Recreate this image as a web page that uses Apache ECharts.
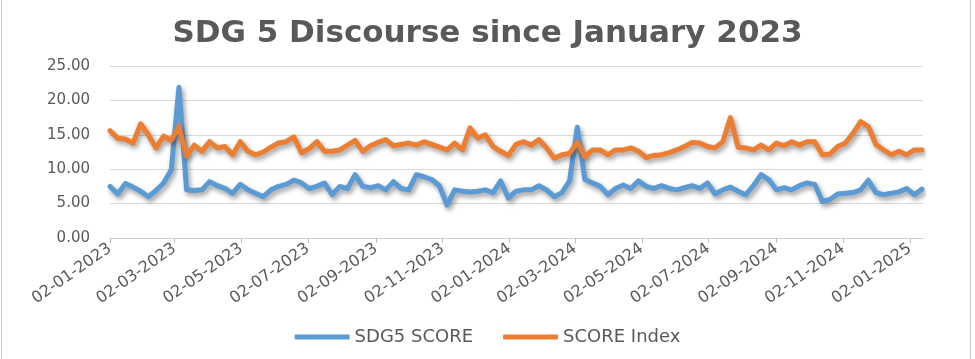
<!DOCTYPE html>
<html>
<head>
<meta charset="utf-8">
<script src="https://cdn.jsdelivr.net/npm/echarts@6/dist/echarts.min.js"></script>
<style>
html,body{margin:0;padding:0;background:#fff;}
#c{width:975px;height:359px;}
</style>
</head>
<body>
<div id="c"></div>
<script>
const title = 'SDG 5 Discourse since January 2023';
const seriesNames = ['SDG5 SCORE', 'SCORE Index'];
const dates = [
'2023-01-02','2023-01-09','2023-01-16','2023-01-23','2023-01-30','2023-02-06','2023-02-13','2023-02-20','2023-02-27',
'2023-03-06','2023-03-13','2023-03-20','2023-03-27','2023-04-03','2023-04-10','2023-04-17','2023-04-24',
'2023-05-01','2023-05-08','2023-05-15','2023-05-22','2023-05-29','2023-06-05','2023-06-12','2023-06-19','2023-06-26',
'2023-07-03','2023-07-10','2023-07-17','2023-07-24','2023-07-31','2023-08-07','2023-08-14','2023-08-21','2023-08-28',
'2023-09-04','2023-09-11','2023-09-18','2023-09-25','2023-10-02','2023-10-09','2023-10-16','2023-10-23','2023-10-30',
'2023-11-06','2023-11-13','2023-11-20','2023-11-27','2023-12-04','2023-12-11','2023-12-18','2023-12-25',
'2024-01-01','2024-01-08','2024-01-15','2024-01-22','2024-01-29','2024-02-05','2024-02-12','2024-02-19','2024-02-26',
'2024-03-04','2024-03-11','2024-03-18','2024-03-25','2024-04-01','2024-04-08','2024-04-15','2024-04-22','2024-04-29',
'2024-05-06','2024-05-13','2024-05-20','2024-05-27','2024-06-03','2024-06-10','2024-06-17','2024-06-24',
'2024-07-01','2024-07-08','2024-07-15','2024-07-22','2024-07-29','2024-08-05','2024-08-12','2024-08-19','2024-08-26',
'2024-09-02','2024-09-09','2024-09-16','2024-09-23','2024-09-30','2024-10-07','2024-10-14','2024-10-21','2024-10-28',
'2024-11-04','2024-11-11','2024-11-18','2024-11-25','2024-12-02','2024-12-09','2024-12-16','2024-12-23','2024-12-30',
'2025-01-06','2025-01-13'
];
const sdg5Score = [
7.5,6.4,7.9,7.4,6.8,6.0,6.9,8.0,9.9,
21.9,7.0,6.9,7.0,8.2,7.6,7.2,6.5,
7.8,7.0,6.5,6.0,7.0,7.5,7.8,8.4,8.0,
7.2,7.5,8.0,6.3,7.5,7.2,9.2,7.5,7.3,
7.6,7.0,8.2,7.2,7.0,9.2,8.9,8.5,7.6,
4.8,7.0,6.8,6.7,6.8,7.0,6.6,8.3,
5.8,6.8,7.0,7.0,7.6,7.0,6.0,6.6,8.3,
16.1,8.5,8.0,7.5,6.3,7.2,7.7,7.2,8.3,
7.5,7.2,7.6,7.2,7.0,7.3,7.6,7.2,
8.0,6.4,7.0,7.4,6.8,6.3,7.6,9.2,8.5,
7.0,7.3,7.0,7.6,8.0,7.8,5.3,5.6,6.4,
6.5,6.6,7.0,8.4,6.6,6.3,6.5,6.7,7.2,
6.3,7.1
];
const scoreIndex = [
15.6,14.5,14.4,13.8,16.6,15.0,13.1,14.8,14.2,
16.2,11.9,13.5,12.6,14.0,13.1,13.3,12.1,
14.0,12.6,12.1,12.5,13.2,13.8,14.0,14.7,12.4,
13.0,14.0,12.6,12.6,12.8,13.5,14.2,12.6,13.4,
13.9,14.3,13.4,13.6,13.8,13.5,14.0,13.6,13.2,
12.8,13.8,12.8,16.0,14.5,15.0,13.3,12.6,
12.0,13.6,14.0,13.5,14.3,13.1,11.6,12.1,12.3,
13.9,11.8,12.8,12.8,12.1,12.8,12.8,13.1,12.6,
11.7,12.0,12.1,12.4,12.8,13.3,13.9,13.8,
13.3,13.1,14.0,17.5,13.2,13.1,12.8,13.5,12.8,
13.8,13.4,14.0,13.5,14.0,14.0,12.1,12.2,13.3,
13.8,15.2,16.9,16.2,13.6,12.8,12.1,12.6,12.1,
12.8,12.8
];
const tickDates = ['2023-01-02','2023-03-02','2023-05-02','2023-07-02','2023-09-02','2023-11-02',
'2024-01-02','2024-03-02','2024-05-02','2024-07-02','2024-09-02','2024-11-02','2025-01-02'];
const axisStart = '2023-01-02';
const axisEnd = '2025-01-14';
const yTicks = [0, 5, 10, 15, 20, 25];

function ts(s){ const p = s.split('-').map(Number); return Date.UTC(p[0], p[1]-1, p[2]); }
function pad(n){ return (n<10?'0':'') + n; }

const chart = echarts.init(document.getElementById('c'));
const txt = '#595959';
const shadow = {shadowColor:'rgba(0,0,0,0.4)', shadowBlur:5, shadowOffsetX:2, shadowOffsetY:3};
chart.setOption({
  animation:false,
  backgroundColor:'#fff',
  title:{text:title, left:'center', top:13,
    textStyle:{fontFamily:'DejaVu Sans', fontWeight:'bold', fontSize:31, color:txt}},
  legend:{bottom:8, left:'center', itemWidth:55, itemHeight:5, itemGap:30, icon:'roundRect',
    textStyle:{fontFamily:'DejaVu Sans', fontSize:18, color:txt},
    data:seriesNames},
  grid:{left:110, right:52, top:66, bottom:121, containLabel:false},
  xAxis:{type:'value', min:ts(axisStart), max:ts(axisEnd),
    splitLine:{show:false},
    axisLine:{show:true, lineStyle:{color:'#d0d0d0', width:1}},
    axisTick:{show:true, length:5, lineStyle:{color:'#bfbfbf'}, customValues:tickDates.map(ts)},
    axisLabel:{rotate:35, margin:9, fontFamily:'DejaVu Sans', fontSize:16, color:txt,
      customValues:tickDates.map(ts),
      formatter:function(v){ const d=new Date(v); return pad(d.getUTCDate())+'-'+pad(d.getUTCMonth()+1)+'-'+d.getUTCFullYear(); }}
  },
  yAxis:{type:'value', min:yTicks[0], max:yTicks[yTicks.length-1], interval:5,
    axisLine:{show:false}, axisTick:{show:false},
    splitLine:{lineStyle:{color:'#d9d9d9', width:1}},
    axisLabel:{fontFamily:'DejaVu Sans', fontSize:15, color:txt, margin:20,
      formatter:function(v){ return v.toFixed(2); }}
  },
  series:[
    {name:seriesNames[0], type:'line', showSymbol:false, symbol:'none', color:'#5B9BD5',
      lineStyle:Object.assign({width:5, color:'#5B9BD5', cap:'round', join:'round'}, shadow),
      data:dates.map((d,i)=>[ts(d), sdg5Score[i]])},
    {name:seriesNames[1], type:'line', showSymbol:false, symbol:'none', color:'#ED7D31',
      lineStyle:Object.assign({width:5, color:'#ED7D31', cap:'round', join:'round'}, shadow),
      data:dates.map((d,i)=>[ts(d), scoreIndex[i]])}
  ],
  graphic:[
    {type:'line', shape:{x1:1.5, y1:0, x2:1.5, y2:359}, style:{stroke:'#c8c8c8', lineWidth:1}, silent:true},
    {type:'line', shape:{x1:970.5, y1:0, x2:970.5, y2:359}, style:{stroke:'#c8c8c8', lineWidth:1}, silent:true}
  ]
});
</script>
</body>
</html>
